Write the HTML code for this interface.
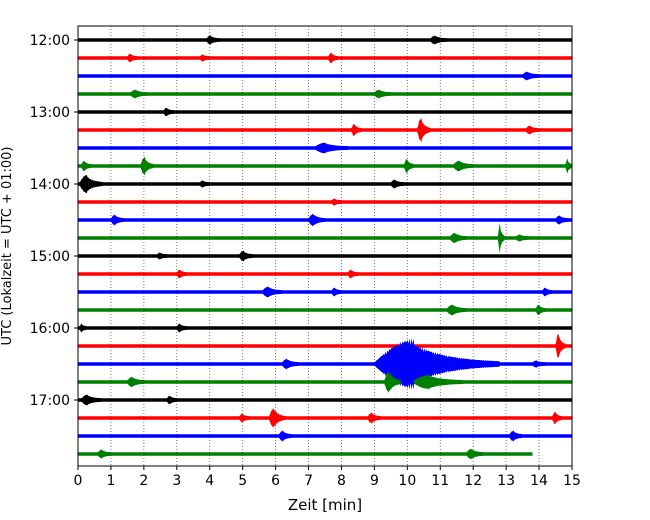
<!DOCTYPE html>
<html><head><meta charset="utf-8"><style>
body{margin:0;background:#fff}
svg{display:block;font-family:"DejaVu Sans","Liberation Sans",sans-serif}
</style></head><body>
<svg id="c" width="650" height="520"></svg>
<script>
// data
const rowColors=["black","red","blue","green"];
const rowCount=24;
const lastRowEnd=13.8;
const xTicks=[0,1,2,3,4,5,6,7,8,9,10,11,12,13,14,15];
const yTickLabels=["12:00","13:00","14:00","15:00","16:00","17:00"];
const yTickRows=[0,4,8,12,16,20];
// events: [row, startMinute, amplitudePx, durationMin]
const events=[
[0,3.9,3,0.4],[0,10.7,3,0.5],
[1,1.5,3,0.3],[1,3.7,2,0.3],[1,7.6,4,0.3],
[2,13.5,3,0.5],
[3,1.6,3,0.5],[3,9.0,3,0.5],
[4,2.6,3,0.3],
[5,8.3,5,0.3],[5,10.3,11,0.4],[5,13.6,3,0.4],
[6,7.2,4,1.0],
[7,0.1,4,0.3],[7,1.9,8,0.4],[7,9.9,6,0.3],[7,11.4,4,0.6],[7,14.8,6,0.3],
[8,0.05,8,0.7],[8,3.7,2,0.3],[8,9.5,3,0.4],
[9,7.7,2,0.3],
[10,1.0,4,0.4],[10,7.0,5,0.5],[10,14.5,3,0.4],
[11,11.3,4,0.5],[11,12.75,14,0.2],[11,13.3,2,0.4],
[12,2.4,2,0.3],[12,4.9,4,0.4],
[13,3.0,3,0.3],[13,8.2,3,0.3],
[14,5.6,4,0.6],[14,7.7,3,0.3],[14,14.1,3,0.3],
[15,11.2,4,0.6],[15,13.9,4,0.3],
[16,0.05,3,0.2],[16,3.0,3,0.3],
[17,14.5,12,0.3],
[18,6.2,4,0.5],[18,9.0,24,3.8],[18,13.8,2,0.4],
[19,1.5,4,0.5],[19,9.3,10,0.5],[19,10.2,6,1.5],
[20,0.1,4,0.6],[20,2.7,3,0.3],
[21,4.9,3,0.3],[21,5.8,9,0.5],[21,8.8,4,0.4],[21,14.4,5,0.3],
[22,6.1,4,0.4],[22,13.1,4,0.4],
[23,0.6,3,0.4],[23,11.8,4,0.5]
];
const L=78,R=572,T=26,B=466,Y0=40,DY=18;
const X=m=>L+(m/15)*(R-L);
const Yr=r=>Y0+r*DY;
const svg=document.getElementById('c');
const NS="http://www.w3.org/2000/svg";
function mk(t,a){const e=document.createElementNS(NS,t);for(const k in a)e.setAttribute(k,a[k]);svg.appendChild(e);return e;}
xTicks.forEach(v=>{if(v>0&&v<15){const g=mk('line',{x1:X(v),x2:X(v),y1:T,y2:B,stroke:'#555','stroke-width':0.8,'stroke-dasharray':'1,2'});

}});
for(let r=0;r<rowCount;r++){
 const col=rowColors[r%4];const end=r==rowCount-1?lastRowEnd:15;
 const l=mk('line',{x1:X(0),x2:X(end),y1:Yr(r),y2:Yr(r),stroke:col,'stroke-width':3.5});
 
 
}
events.forEach(ev=>{
 const [r,s,a,d]=ev;const col=rowColors[r%4];const y=Yr(r);
 const x0=X(s),x1=Math.min(X(s+d),R);const n=Math.max(6,Math.round(x1-x0));
 let top=[],bot=[];
 for(let i=0;i<=n;i++){const f=i/n;
  const env=a*Math.pow(Math.sin(Math.PI*Math.min(1,f*1.6)/ (f<0.3125?1:1)),1)*(f<0.3125?1:1)*(f<0.3125?1:Math.exp(-2.5*(f-0.3125)))*(0.7+0.3*Math.abs(Math.cos(i*1.7)));
  const e2=f<0.3125?a*Math.sin(Math.PI/2*f/0.3125)*(0.7+0.3*Math.abs(Math.cos(i*1.7))):env/Math.max(1e-6,Math.sin(Math.PI*Math.min(1,f*1.6)))||a*Math.exp(-2.5*(f-0.3125))*(0.7+0.3*Math.abs(Math.cos(i*1.7)));
  const v=f<0.3125?e2:a*Math.exp(-3*(f-0.3125))*(0.7+0.3*Math.abs(Math.cos(i*1.7)))*(1-f*0.6);
  const x=x0+f*(x1-x0);top.push(x+','+(y-v-1.7));bot.unshift(x+','+(y+v+1.7));}
 const p=mk('polygon',{points:top.concat(bot).join(' '),fill:col});
 
 
});
const f=mk('rect',{x:L,y:T,width:R-L,height:B-T,fill:'none',stroke:'black','stroke-width':1});


xTicks.forEach(v=>{mk('line',{x1:X(v),x2:X(v),y1:B,y2:B+4,stroke:'black'});
 const t=mk('text',{x:X(v),y:B+19,'text-anchor':'middle','font-size':14});t.textContent=v;
 
 });
yTickRows.forEach((r,i)=>{mk('line',{x1:L-4,x2:L,y1:Yr(r),y2:Yr(r),stroke:'black'});
 const t=mk('text',{x:L-8,y:Yr(r)+5,'text-anchor':'end','font-size':14});t.textContent=yTickLabels[i];
 
 });
const xt=mk('text',{x:(L+R)/2,y:510,'text-anchor':'middle','font-size':15});xt.textContent='Zeit  [min]';xt.setAttribute('xml:space','preserve');


const yt=mk('text',{x:0,y:0,'text-anchor':'middle','font-size':13,transform:'translate(11,246) rotate(-90)'});yt.textContent='UTC (Lokalzeit = UTC + 01:00)';


</script>
</body></html>
